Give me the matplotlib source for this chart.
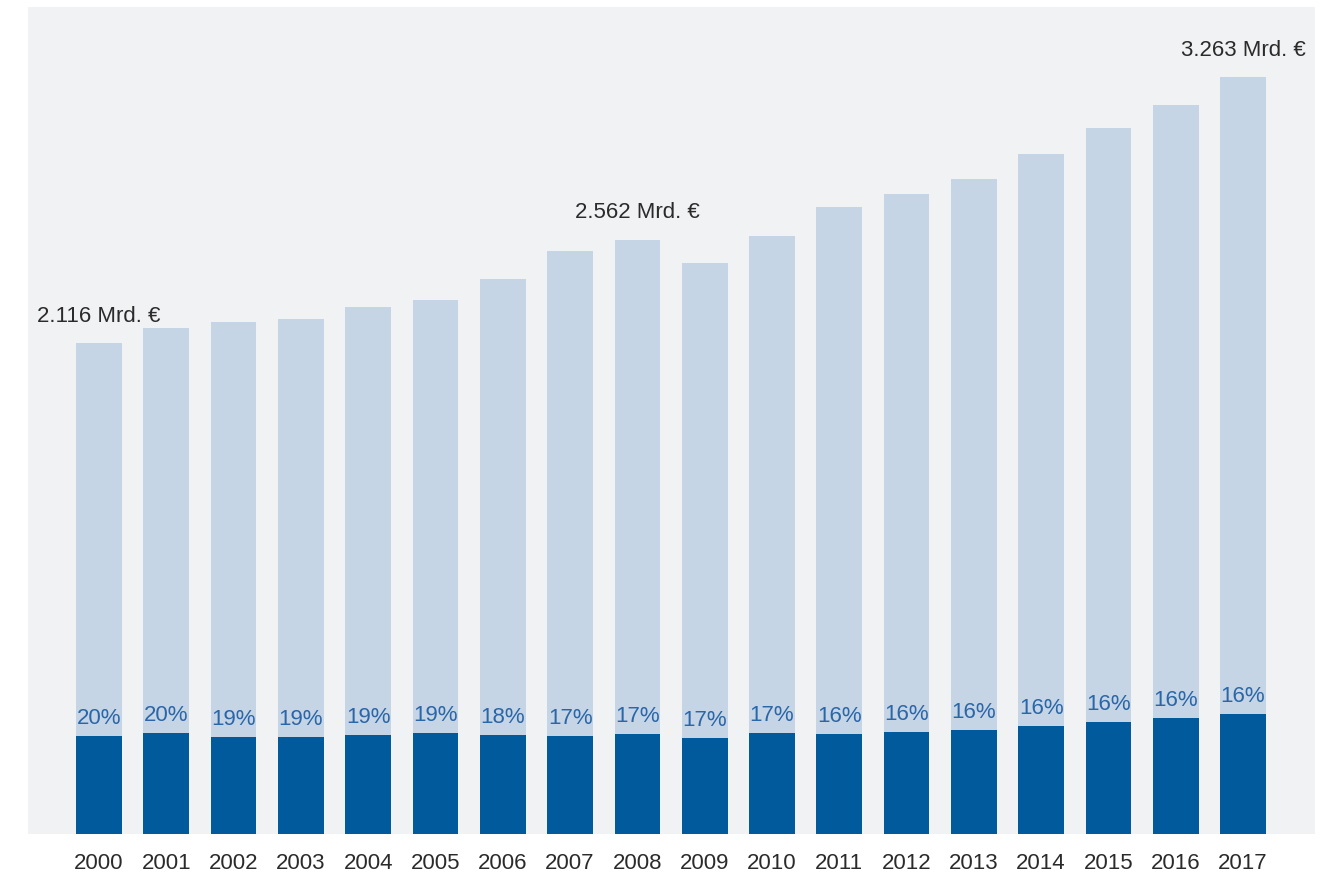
import matplotlib.pyplot as plt
import numpy as np

years = [str(y) for y in range(2000, 2018)]
total = [2116, 2180, 2206, 2219, 2271, 2301, 2392, 2513, 2562, 2461,
         2578, 2703, 2759, 2824, 2932, 3044, 3143, 3263]
part = [423, 436, 419, 419, 427, 436, 427, 423, 432, 414,
        436, 432, 440, 449, 466, 484, 501, 518]
share = [20, 20, 19, 19, 19, 19, 18, 17, 17, 17,
         17, 16, 16, 16, 16, 16, 16, 16]
labelled = {0: "2.116 Mrd. €", 8: "2.562 Mrd. €", 17: "3.263 Mrd. €"}

plt.rcParams['font.family'] = ['Liberation Sans Narrow', 'Liberation Sans', 'DejaVu Sans']

fig = plt.figure(figsize=(13.34, 8.77), dpi=100)
ax = fig.add_axes([0.021, 0.049, 0.9648, 0.943])
ax.set_facecolor('#f1f2f4')

x = np.arange(len(years))
ax.bar(x, total, width=0.68, color='#c5d5e6')
ax.bar(x, part, width=0.68, color='#005a9c')

# percentage share above the dark bars
for i in x:
    ax.annotate(f"{share[i]}%", (i, part[i]), xytext=(0, 5), textcoords='offset points',
                ha='center', va='bottom', fontsize=16, color='#2a66a8')
# totals for selected years
for i, txt in labelled.items():
    ax.annotate(txt, (i, total[i]), xytext=(0, 12), textcoords='offset points',
                ha='center', va='bottom', fontsize=16, color='#2b2b2b')

ax.set_xlim(-1.055, 18.07)
ax.set_ylim(0, 3566)
ax.set_xticks(x)
ax.set_xticklabels(years, fontsize=16, color='#2b2b2b')
ax.tick_params(axis='x', length=0, pad=14)
ax.set_yticks([])
for s in ax.spines.values():
    s.set_visible(False)

fig.savefig('out.png', dpi=100)
